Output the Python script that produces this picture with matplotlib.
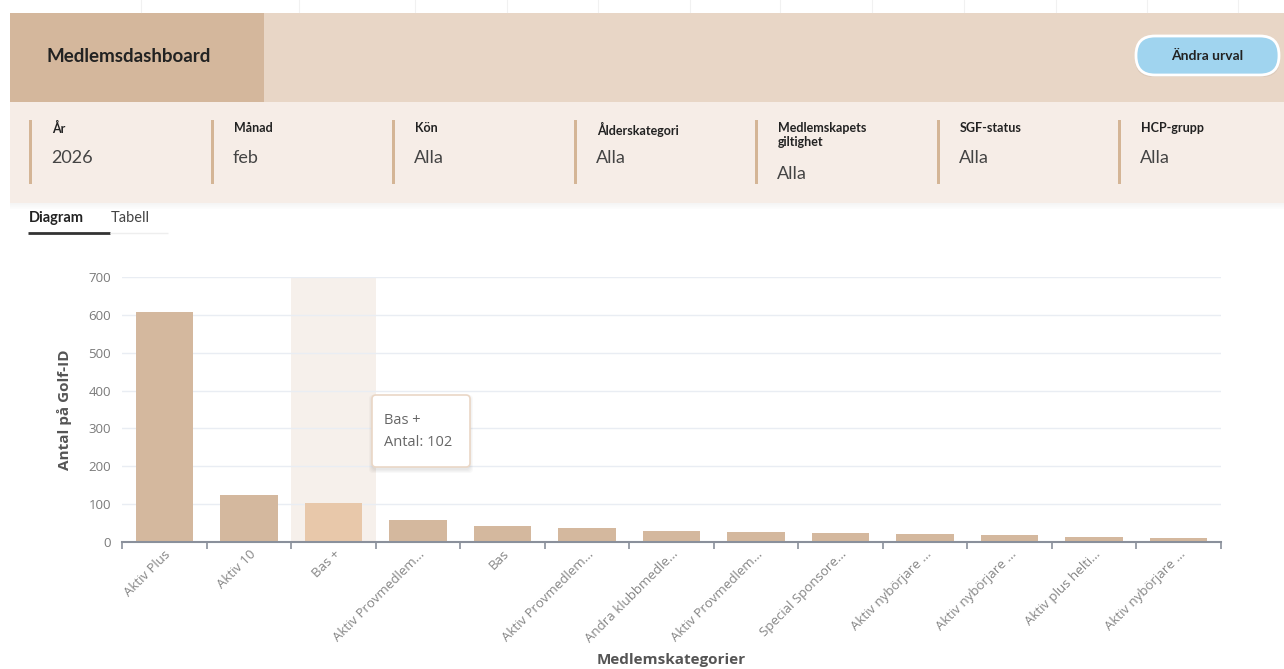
import matplotlib.pyplot as plt
from matplotlib.patches import Rectangle, FancyBboxPatch
from matplotlib.ticker import FixedLocator

# Data
categories = ['Aktiv Plus', 'Aktiv 10', 'Bas +', 'Aktiv Provmedlem...', 'Bas',
              'Aktiv Provmedlem...', 'Andra klubbmedle...', 'Aktiv Provmedlem...',
              'Special Sponsore...', 'Aktiv nybörjare ...', 'Aktiv nybörjare ...',
              'Aktiv plus helti...', 'Aktiv nybörjare ...']
antal = [607, 123, 102, 58, 41, 38, 29, 27, 23, 22, 18, 12, 10]
highlight = 2

filter_labels = ['År', 'Månad', 'Kön', 'Ålderskategori', 'Medlemskapets\ngiltighet',
                 'SGF-status', 'HCP-grupp']
filter_values = ['2026', 'feb', 'Alla', 'Alla', 'Alla', 'Alla', 'Alla']

W, H = 1284, 669
fig = plt.figure(figsize=(W / 100, H / 100), dpi=100)
fig.patch.set_facecolor('white')

# background layer in pixel coords
bg = fig.add_axes([0, 0, 1, 1], zorder=0)
bg.set_xlim(0, W)
bg.set_ylim(H, 0)
bg.axis('off')

for x in [141, 299, 415, 507, 598, 690, 780, 872, 964, 1056, 1147, 1238]:
    bg.plot([x, x], [0, 12], color='#f1f1f1', lw=0.8)

# header
bg.add_patch(Rectangle((10, 13), W - 10, 89, color='#E8D6C6', lw=0))
bg.add_patch(Rectangle((10, 13), 254, 89, color='#D4B79C', lw=0))
bg.text(47, 57, 'Medlemsdashboard', fontsize=13.5, fontweight='bold', color='#222222',
        va='center', ha='left', family='Lato')

# button
for i in range(3):
    bg.add_patch(FancyBboxPatch((1137 - i, 38 + i + 1), 141 + 2 * i, 36,
                                boxstyle='round,pad=0,rounding_size=18',
                                fc='#000000', alpha=0.05, ec='none'))
bg.add_patch(FancyBboxPatch((1136, 36), 143, 39, boxstyle='round,pad=0,rounding_size=19',
                            fc='#A0D4EF', ec='white', lw=2))
bg.text(1207, 56, 'Ändra urval', fontsize=10, fontweight='bold', color='#222222',
        va='center', ha='center', family='Lato')

# filter panel
bg.add_patch(Rectangle((10, 102), W - 10, 101, color='#F6EDE7', lw=0))
for i in range(6):
    bg.add_patch(Rectangle((10, 203 + i), W - 10, 1, color='#000000', alpha=0.04 - i * 0.006, lw=0))
xs = [30, 212, 393, 575, 756, 938, 1119]
for x, lab, val in zip(xs, filter_labels, filter_values):
    bg.add_patch(Rectangle((x - 1.5, 120), 3.5, 64, color='#D4B596', lw=0))
    bg.text(x + 22, 122, lab, fontsize=9, fontweight='bold', color='#222222',
            va='top', ha='left', family='Lato', linespacing=1.15)
    vy = 174 if '\n' in lab else 158
    bg.text(x + 21, vy, val, fontsize=13, color='#444444', va='center', ha='left', family='Lato')

# tabs
bg.text(29, 218, 'Diagram', fontsize=10.5, fontweight='bold', color='#222222',
        va='center', ha='left', family='Lato')
bg.text(111, 218, 'Tabell', fontsize=10.5, color='#444444', va='center', ha='left', family='Lato')
bg.plot([28, 110], [233, 233], color='#333333', lw=2, solid_capstyle='butt')
bg.plot([110, 168], [233, 233], color='#eeeeee', lw=1, solid_capstyle='butt')

# chart
left, right, top, base = 122, 1221, 277, 542
ax = fig.add_axes([left / W, (H - base) / H, (right - left) / W, (base - top) / H], zorder=2)
ax.patch.set_alpha(0)
n = len(categories)
xpos = list(range(n))
colors = ['#E8C8AA' if i == highlight else '#D4B89E' for i in xpos]
ax.axvspan(highlight - 0.5, highlight + 0.5, color='#F6F0EB', zorder=0, lw=0)
ax.bar(xpos, antal, width=0.68, color=colors, zorder=2)
ax.set_xlim(-0.5, n - 0.5)
ax.set_ylim(0, 700)
ax.set_yticks(range(0, 701, 100))
ax.yaxis.grid(True, color='#E9EDF3', lw=1)
ax.set_axisbelow(True)
for s in ['top', 'right', 'left']:
    ax.spines[s].set_visible(False)
ax.spines['bottom'].set_color('#8A909B')
ax.spines['bottom'].set_linewidth(1.5)
ax.spines['bottom'].set_zorder(3)
ax.tick_params(axis='y', length=0, labelsize=9.5, labelcolor='#7a7a7a', pad=8)
ax.set_xticks(xpos)
ax.set_xticklabels(categories, rotation=45, ha='right', rotation_mode='anchor',
                   fontsize=9.5, color='#858585')
ax.tick_params(axis='x', which='major', length=0, pad=4)
ax.xaxis.set_minor_locator(FixedLocator([i - 0.5 for i in range(n + 1)]))
ax.tick_params(axis='x', which='minor', length=5, width=1.2, color='#8A909B')
for t in ax.get_yticklabels() + ax.get_xticklabels():
    t.set_family('Open Sans')
ax.set_ylabel('Antal på Golf-ID', fontsize=11, fontweight='bold', color='#555555',
              family='Open Sans', labelpad=12)
ax.text(0.5, -0.445, 'Medlemskategorier', transform=ax.transAxes, fontsize=11,
        fontweight='bold', color='#555555', family='Open Sans', ha='center', va='center')

# tooltip
tip = fig.add_axes([0, 0, 1, 1], zorder=3)
tip.set_xlim(0, W)
tip.set_ylim(H, 0)
tip.axis('off')
for i in range(4):
    tip.add_patch(FancyBboxPatch((372 - i, 396 - i + 2), 98 + 2 * i, 72 + 2 * i,
                                 boxstyle='round,pad=0,rounding_size=4',
                                 fc='#000000', alpha=0.025, ec='none'))
tip.add_patch(FancyBboxPatch((372, 395), 98, 72, boxstyle='round,pad=0,rounding_size=4',
                             fc='white', ec='#EAD7C6', lw=1.2))
tip.text(384, 421, categories[highlight], fontsize=10.5, color='#666666', va='center',
         ha='left', family='Open Sans')
tip.text(384, 443, f'Antal: {antal[highlight]}', fontsize=10.5, color='#666666',
         va='center', ha='left', family='Open Sans')

fig.savefig('out.png', dpi=100)
